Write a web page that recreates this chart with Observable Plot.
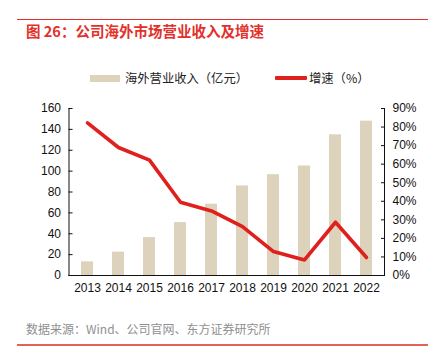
<!DOCTYPE html>
<html>
<head>
<meta charset="utf-8">
<script src="https://cdn.jsdelivr.net/npm/d3@7"></script>
<script src="https://cdn.jsdelivr.net/npm/@observablehq/plot@0.6"></script>
<style>
  html, body { margin: 0; padding: 0; background: #fff; }
  body { width: 428px; height: 351px; position: relative; overflow: hidden;
         font-family: "Liberation Sans", Arial, "Noto Sans CJK SC", sans-serif; }
  .rule { position: absolute; left: 17px; right: 0; height: 1.5px; background: #e2312b; }
  #title { position: absolute; left: 26px; top: 21px; font-size: 14.5px; color: #e2312b; font-weight: bold;
           font-family: "Noto Sans CJK SC", sans-serif; line-height: 20px; white-space: nowrap; }
  #legend { position: absolute; top: 69px; left: 0; width: 428px; height: 18px; font-size: 12.3px;
            font-family: "Noto Sans CJK SC", sans-serif; color: #222; }
  #legend .sw { position: absolute; top: 5.5px; width: 30px; height: 7px; background: #ddd3bc; }
  #legend .ln { position: absolute; top: 7px; width: 32px; height: 4px; background: #e0201c; border-radius: 1px; }
  #legend .tx { position: absolute; top: 0; line-height: 18px; white-space: nowrap; }
  #chart { position: absolute; left: 0; top: 95px; }
  #source { position: absolute; left: 26px; top: 320px; font-size: 12px; color: #8f8f8f;
            font-family: "Noto Sans CJK SC", sans-serif; line-height: 18px; white-space: nowrap; }
</style>
</head>
<body>
<div class="rule" style="top:18.5px"></div>
<div id="title">图 26：公司海外市场营业收入及增速</div>
<div id="legend">
  <div class="sw" style="left:90px"></div>
  <div class="tx" style="left:125px">海外营业收入（亿元）</div>
  <div class="ln" style="left:275px"></div>
  <div class="tx" style="left:309px">增速（%）</div>
</div>
<div id="chart"></div>
<div id="source">数据来源：Wind、公司官网、东方证券研究所</div>
<div class="rule" style="top:343.5px; background:#e4625c; height:2px"></div>
<script>
const years = ["2013","2014","2015","2016","2017","2018","2019","2020","2021","2022"];
const revenue = [13.1, 22.4, 36.3, 50.7, 68.3, 85.8, 96.6, 104.9, 134.8, 147.9];
const growth = [82.3, 69.0, 62.2, 39.5, 34.8, 26.3, 12.9, 8.4, 28.7, 9.7];
const leftTicks = [0, 20, 40, 60, 80, 100, 120, 140, 160];
const rightTicks = [0, 10, 20, 30, 40, 50, 60, 70, 80, 90];

const leftMax = 160, rightMax = 90;
const toLeft = p => p * leftMax / rightMax;

const rows = years.map((y, i) => ({year: y, revenue: revenue[i], growth: growth[i], g: toLeft(growth[i])}));

const chart = Plot.plot({
  width: 428,
  height: 205,
  marginTop: 13,
  marginBottom: 25,
  marginLeft: 68.5,
  marginRight: 44,
  style: {fontFamily: '"Liberation Sans", Arial, sans-serif', fontSize: "12px", color: "#111", background: "transparent"},
  x: {domain: years, paddingInner: 0.62, paddingOuter: 0.31, axis: null},
  y: {domain: [0, leftMax], axis: null},
  marks: [
    Plot.barY(rows, {x: "year", y: "revenue", fill: "#ddd3bc"}),
    Plot.axisY({anchor: "left", ticks: leftTicks, tickSize: -4, tickPadding: 12, tickFormat: d => d, fontSize: 12, stroke: "#111", label: null}),
    Plot.axisY({anchor: "right", ticks: rightTicks.map(toLeft), tickSize: -4, tickPadding: 12,
      tickFormat: d => Math.round(d * rightMax / leftMax) + "%", fontSize: 12, stroke: "#111", label: null}),
    Plot.axisX({anchor: "bottom", tickSize: 0, tickPadding: 8, fontSize: 12, label: null}),
    Plot.ruleY([0], {stroke: "#111", strokeWidth: 1}),
    Plot.frame({anchor: "left", stroke: "#111"}),
    Plot.frame({anchor: "right", stroke: "#111"}),
    Plot.line(rows, {x: "year", y: "g", stroke: "#e0201c", strokeWidth: 3.6, strokeLinejoin: "round", strokeLinecap: "round"})
  ]
});
document.getElementById("chart").appendChild(chart);
</script>
</body>
</html>
